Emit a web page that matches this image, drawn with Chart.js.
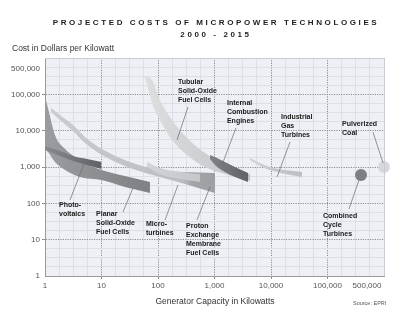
<!DOCTYPE html>
<html>
<head>
<meta charset="utf-8">
<script src="https://cdn.jsdelivr.net/npm/chart.js@4.4.1/dist/chart.umd.min.js"></script>
<style>
  html, body { margin: 0; padding: 0; background: #fff; }
  #wrap { width: 415px; height: 329px; position: relative; }
</style>
</head>
<body>
<div id="wrap"><canvas id="chart-costs" width="415" height="329"></canvas></div>
<script>
/* Projected costs of micropower technologies, 2000 - 2015 (log / log) */

// ---- data : capacity (kW) and cost ($/kW), upper and lower edge of each band ----
const pvX       = [1, 1.84, 3.13, 5.54, 10];
const pvHi      = [3790, 2760, 2010, 1660, 1370];
const pvLo      = [2940, 2010, 1460, 1140, 881];

const planarX   = [1, 1.02, 1.13, 1.5, 2.26, 4.16, 10, 26, 72];
const planarHi  = [84500, 76900, 42100, 7600, 3130, 1560, 828, 566, 387];
const planarLo  = [69900, 5540, 2590, 1370, 828, 531, 439, 282, 193];

const pemX      = [1.28, 1.84, 3.13, 5.1, 10.2, 31.9, 108, 300, 1020];
const pemHi     = [42100, 27000, 14300, 6720, 3130, 1370, 828, 730, 684];
const pemLo     = [32700, 19700, 9800, 4580, 2140, 940, 531, 340, 193];

const microX    = [63.9, 108, 245, 554];
const microHi   = [1370, 940, 730, 642];
const microLo   = [1000, 642, 468, 387];

const tubularX  = [58.9, 66.5, 78.3, 108, 177, 326, 679, 1530, 4250];
const tubularHi = [300000, 300000, 248000, 69900, 19700, 6290, 2430, 1140, 642];
const tubularLo = [282000, 150000, 57800, 19700, 5540, 2140, 1000, 642, 412];

const iceX      = [832, 1020, 1530, 2300, 3920];
const iceHi     = [2140, 1890, 1370, 1000, 684];
const iceLo     = [1660, 1140, 730, 531, 387];

const gasX      = [4250, 6380, 9600, 17700, 35400];
const gasHi     = [1770, 1290, 1000, 828, 730];
const gasLo     = [1560, 1070, 828, 642, 531];

const combinedCycle = [392000, 603];
const pulverizedCoal = [1000000, 1000];

// ---- axes ----
const xTickVals = [1, 10, 100, 1000, 10000, 100000, 500000];
const xTickText = ["1", "10", "100", "1,000", "10,000", "100,000", "500,000"];
const yTickVals = [1, 10, 100, 1000, 10000, 100000, 500000];
const yTickText = ["1", "10", "100", "1,000", "10,000", "100,000", "500,000"];

const TITLE   = ["PROJECTED COSTS OF MICROPOWER TECHNOLOGIES", "2000 - 2015"];
const Y_TITLE = "Cost in Dollars per Kilowatt";
const X_TITLE = "Generator Capacity in Kilowatts";
const SOURCE  = "Source: EPRI";

// callouts: text lines, text anchor (kW, $/kW), leader from -> to
const NOTES = [
  { text: ["Tubular", "Solid-Oxide", "Fuel Cells"], at: [226, 219000], lead: [340, 44900, 217, 5540] },
  { text: ["Internal", "Combustion", "Engines"], at: [1660, 57800], lead: [2400, 11900, 1360, 1140] },
  { text: ["Industrial", "Gas", "Turbines"], at: [15000, 23800], lead: [21700, 4880, 12800, 531] },
  { text: ["Pulverized", "Coal"], at: [181000, 15300], lead: [638000, 9200, 960000, 1290] },
  { text: ["Combined", "Cycle", "Turbines"], at: [83200, 44.8], lead: [240000, 69.8, 361000, 439] },
  { text: ["Photo-", "voltaics"], at: [1.77, 90], lead: [2.77, 124, 4.9, 1210] },
  { text: ["Planar", "Solid-Oxide", "Fuel Cells"], at: [8.0, 50.9], lead: [24, 57.8, 36.1, 264] },
  { text: ["Micro-", "turbines"], at: [61.3, 27.0], lead: [133, 34.8, 226, 320] },
  { text: ["Proton", "Exchange", "Membrane", "Fuel Cells"], at: [313, 23.8], lead: [490, 34.8, 832, 282] }
];

const FONT = "'Liberation Sans', Arial, sans-serif";

// quarter-decade grid
const gridVals = [];
for (let k = 0; k <= 24; k++) gridVals.push(Math.pow(10, k / 4));

function isDecade(v) {
  const l = Math.log10(v);
  return Math.abs(l - Math.round(l)) < 1e-6;
}
function isInnerMajor(v) { return isDecade(v) && v > 1.5 && v < 5e5; }

function tickLabel(vals, text) {
  return v => {
    const i = vals.findIndex(t => Math.abs(t - v) / t < 1e-6);
    return i >= 0 ? text[i] : "";
  };
}

function bandFill(x0, x1, stops) {
  return c => {
    const chart = c.chart;
    if (!chart.chartArea) return stops[stops.length - 1][1];
    const sx = chart.scales.x;
    const g = chart.ctx.createLinearGradient(sx.getPixelForValue(x0), 0, sx.getPixelForValue(x1), 0);
    stops.forEach(s => g.addColorStop(s[0], s[1]));
    return g;
  };
}

const lineBase = {
  borderWidth: 0, borderColor: "rgba(0,0,0,0)", pointRadius: 0, pointHoverRadius: 0,
  pointHitRadius: 0, cubicInterpolationMode: "monotone"
};

function band(xs, hi, lo, stops) {
  const pts = ys => xs.map((x, i) => ({ x, y: ys[i] }));
  return [
    { ...lineBase, data: pts(lo), fill: "+1", backgroundColor: bandFill(xs[0], xs[xs.length - 1], stops) },
    { ...lineBase, data: pts(hi), fill: false }
  ];
}

function dot(p, color) {
  return { data: [{ x: p[0], y: p[1] }], showLine: false, pointRadius: 6, pointHoverRadius: 6,
           pointBackgroundColor: color, pointBorderWidth: 0, pointBorderColor: "rgba(0,0,0,0)", clip: false };
}

// first in list = drawn on top
const datasets = [
  dot(pulverizedCoal, "#d6d8db"),
  dot(combinedCycle, "#7c7f83"),
  ...band(gasX, gasHi, gasLo, [[0, "#d0d2d5"], [1, "#bcbec1"]]),
  ...band(iceX, iceHi, iceLo, [[0, "#7f8286"], [1, "#5f6266"]]),
  ...band(tubularX, tubularHi, tubularLo, [[0, "#dcdee0"], [1, "#c2c4c7"]]),
  ...band(microX, microHi, microLo, [[0, "#d2d4d7"], [1, "#c4c6c9"]]),
  ...band(pemX, pemHi, pemLo, [[0, "#c9cbce"], [0.8, "#bbbdc0"], [0.86, "#a2a4a7"], [1, "#9d9fa2"]]),
  ...band(pvX, pvHi, pvLo, [[0, "#86898d"], [1, "#5e6165"]]),
  ...band(planarX, planarHi, planarLo, [[0, "#9a9c9f"], [1, "#7e8184"]])
];

const framePlugin = {
  id: "frame",
  beforeDraw(chart) {
    const { ctx, chartArea: a } = chart;
    ctx.save();
    ctx.fillStyle = "#eef0f5";
    ctx.fillRect(a.left, a.top, a.right - a.left, a.bottom - a.top);
    ctx.restore();
  },
  afterDatasetsDraw(chart) {
    const { ctx, chartArea: a } = chart;
    ctx.save();
    ctx.strokeStyle = "#c9ccd2";
    ctx.lineWidth = 1;
    ctx.beginPath();
    ctx.moveTo(a.left, a.top + 0.5); ctx.lineTo(a.right + 0.5, a.top + 0.5); ctx.lineTo(a.right + 0.5, a.bottom);
    ctx.stroke();
    ctx.restore();
  }
};

const notesPlugin = {
  id: "notes",
  afterDraw(chart) {
    const { ctx, scales: { x, y } } = chart;
    ctx.save();
    // title
    ctx.fillStyle = "#1e1e1e";
    ctx.textAlign = "center";
    ctx.textBaseline = "middle";
    ctx.font = "bold 8px " + FONT;
    if ("letterSpacing" in ctx) ctx.letterSpacing = "2.6px";
    ctx.fillText(TITLE[0], 216, 22.5);
    ctx.fillText(TITLE[1], 216, 35);
    if ("letterSpacing" in ctx) ctx.letterSpacing = "0px";
    // axis captions
    ctx.fillStyle = "#333";
    ctx.font = "8.5px " + FONT;
    ctx.textAlign = "left";
    ctx.fillText(Y_TITLE, 12, 49);
    ctx.textAlign = "center";
    ctx.fillText(X_TITLE, 215, 302);
    ctx.font = "5.5px " + FONT;
    ctx.fillStyle = "#555";
    ctx.textAlign = "left";
    ctx.fillText(SOURCE, 353, 303);
    // callouts
    NOTES.forEach(n => {
      ctx.strokeStyle = "#6a6a6a";
      ctx.lineWidth = 0.7;
      ctx.beginPath();
      ctx.moveTo(x.getPixelForValue(n.lead[0]), y.getPixelForValue(n.lead[1]));
      ctx.lineTo(x.getPixelForValue(n.lead[2]), y.getPixelForValue(n.lead[3]));
      ctx.stroke();
      ctx.fillStyle = "#1a1a1a";
      ctx.font = "bold 7px " + FONT;
      ctx.textAlign = "left";
      const px = x.getPixelForValue(n.at[0]);
      const py = y.getPixelForValue(n.at[1]);
      n.text.forEach((t, i) => ctx.fillText(t, px, py + i * 9));
    });
    ctx.restore();
  }
};

function axis(vals, text, fit) {
  return {
    type: "logarithmic",
    min: 1,
    max: 1000000,
    afterBuildTicks: s => {
      s.ticks = gridVals.concat([500000]).sort((a, b) => a - b).map(v => ({ value: v }));
    },
    afterFit: fit,
    grid: {
      color: c => {
        const v = c.tick ? c.tick.value : 0;
        if (v === 500000 || v === 1) return "rgba(0,0,0,0)";
        if (isInnerMajor(v)) return "#8e8e8e";
        if (v >= 999999) return "#c9ccd2";
        return "#dcdfe6";
      },
      lineWidth: 1,
      drawTicks: true,
      tickLength: 3,
      tickColor: c => (c.tick && isInnerMajor(c.tick.value)) ? "#8e8e8e" : "rgba(0,0,0,0)"
    },
    border: {
      display: true,
      color: "#9a9a9a",
      width: 1,
      dash: c => (c.tick && isInnerMajor(c.tick.value)) ? [1.2, 1.2] : []
    },
    ticks: {
      autoSkip: false,
      maxRotation: 0,
      padding: 2,
      color: "#555",
      font: { family: FONT, size: 8 },
      callback: tickLabel(vals, text)
    }
  };
}

new Chart(document.getElementById("chart-costs"), {
  type: "line",
  data: { datasets },
  options: {
    responsive: false,
    animation: false,
    events: [],
    layout: { padding: { top: 58, right: 31, bottom: 29, left: 0 } },
    plugins: { legend: { display: false }, tooltip: { enabled: false } },
    scales: {
      x: axis(xTickVals, xTickText, s => { s.height = 24; }),
      y: axis(yTickVals, yTickText, s => { s.width = 45; })
    }
  },
  plugins: [framePlugin, notesPlugin]
});
</script>
</body>
</html>
